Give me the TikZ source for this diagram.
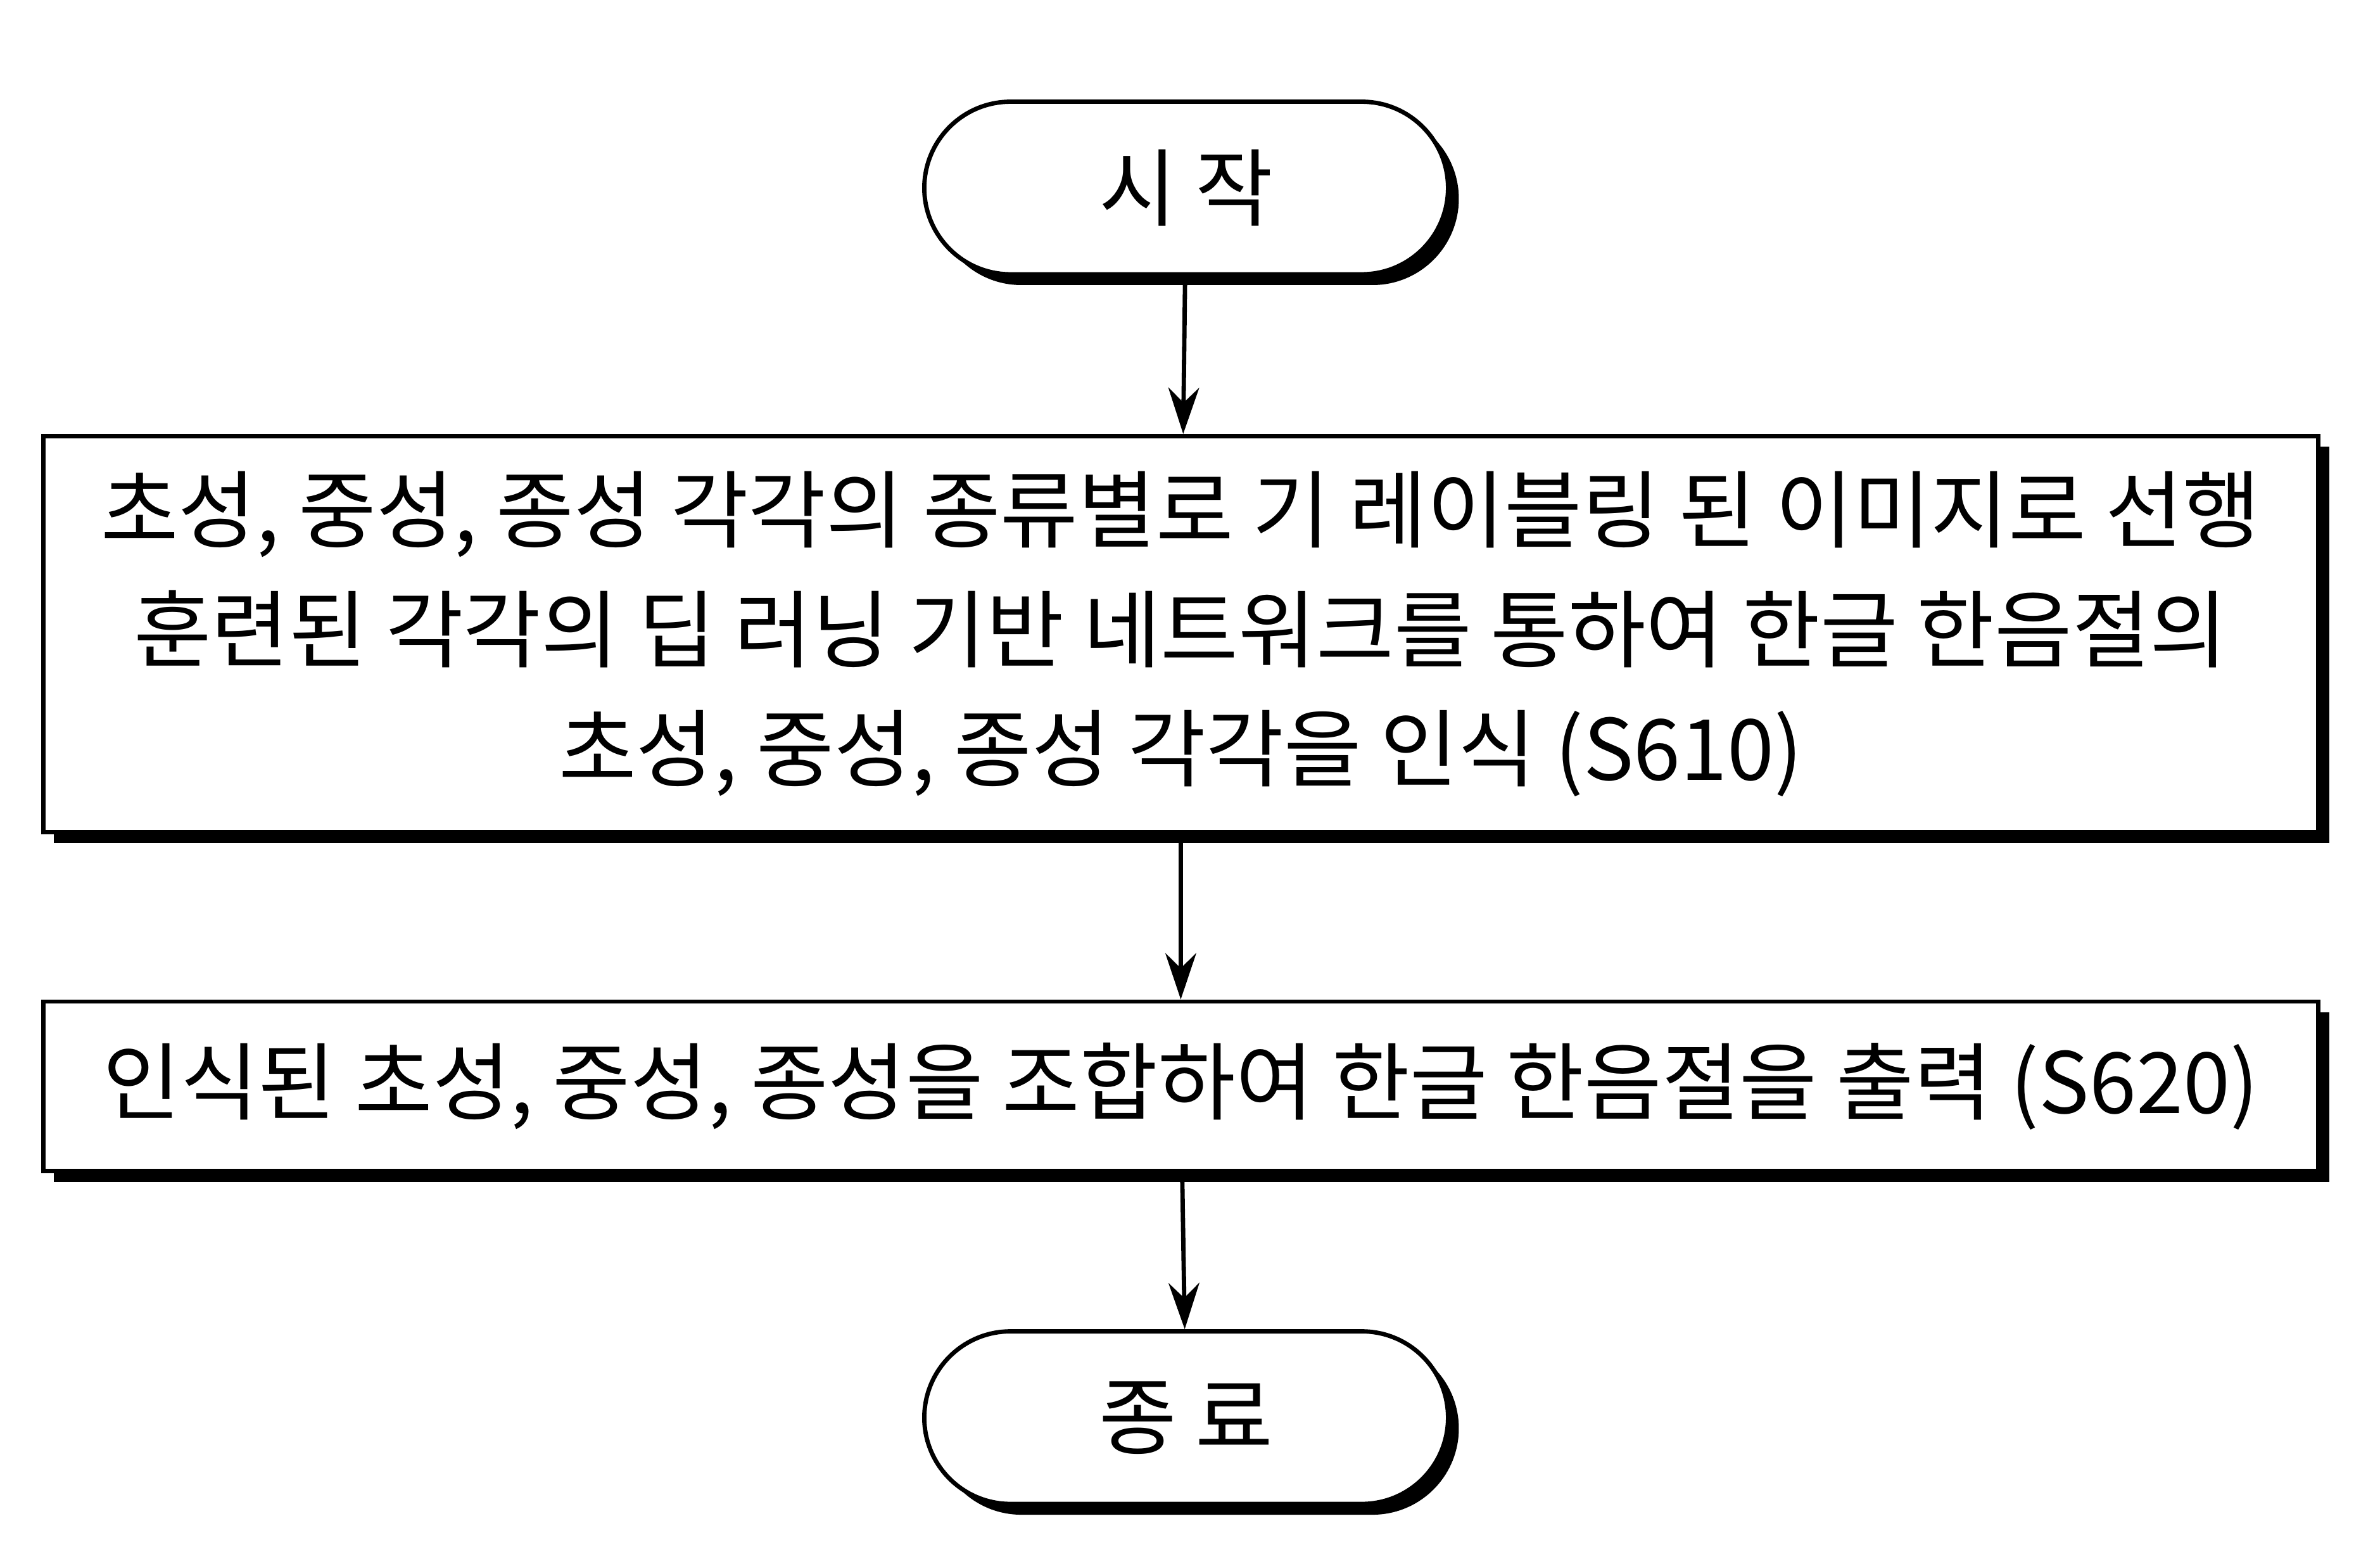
\documentclass[tikz,border=0pt]{standalone}
\usepackage{fontspec}
\setmainfont{Noto Sans CJK KR}
\usetikzlibrary{shadows}
\usetikzlibrary{arrows.meta}

\begin{document}
\begin{tikzpicture}[every node/.style={draw,thick,fill=white,font=\fontsize{15.6}{22}\selectfont,align=center,
						general shadow={fill=black,shadow xshift=0.07cm,shadow yshift=-0.07cm}},
						term/.style={minimum width=3.4cm,minimum height=1.12cm,rounded corners=0.56cm},
						proc/.style={minimum width=14.77cm,inner sep=0pt},
						flow/.style={thick,-{Stealth[length=0.3cm,width=0.2cm]}}
						]
						\useasboundingbox (0,0) rectangle (15.45,-10.16);
						\node[term](start) at (7.7,-1.22){시 작};
						\node[proc,minimum height=2.57cm](s610) at (7.665,-4.115){초성, 중성, 종성 각각의 종류별로 기 레이블링 된 이미지로 선행\\훈련된 각각의 딥 러닝 기반 네트워크를 통하여 한글 한음절의\\초성, 중성, 종성 각각을 인식 (S610)};
						\node[proc,minimum height=1.1cm](s620) at (7.665,-7.05){인식된 초성, 중성, 종성을 조합하여 한글 한음절을 출력 (S620)};
						\node[term](stop) at (7.7,-9.2){종 료};
						\draw[flow] (start) -- (s610);
						\draw[flow] (s610) -- (s620);
						\draw[flow] (s620) -- (stop);
\end{tikzpicture}
\end{document}
